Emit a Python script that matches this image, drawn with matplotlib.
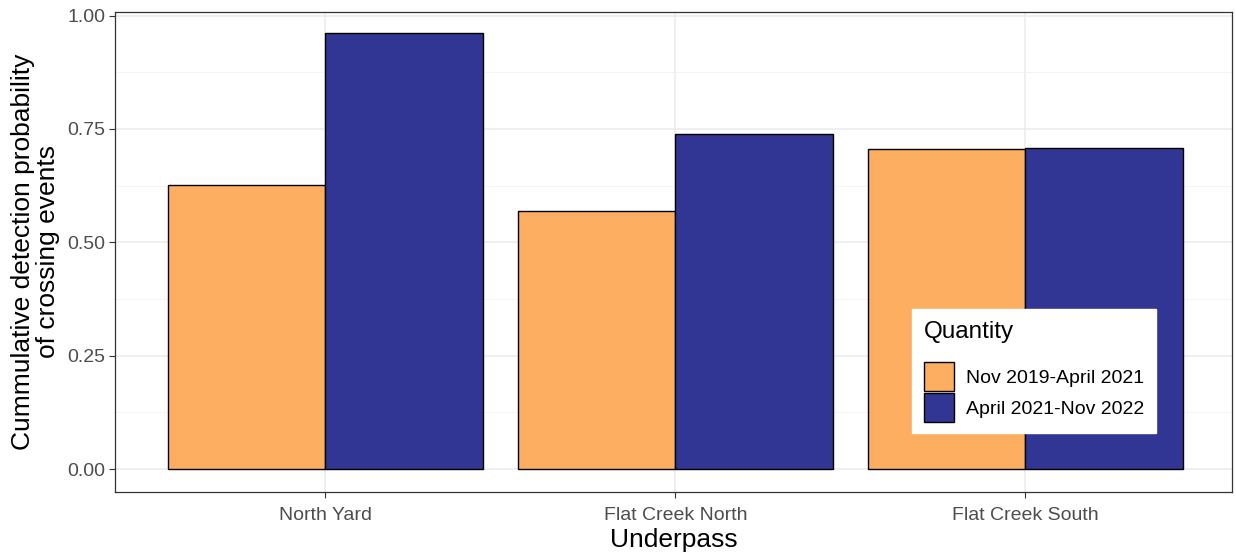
import numpy as np
import matplotlib
matplotlib.use("Agg")
from matplotlib import pyplot as plt
from matplotlib.patches import Patch

plt.rcParams['font.family'] = ['Liberation Sans', 'DejaVu Sans']

# data
underpass = ["North Yard", "Flat Creek North", "Flat Creek South"]
periods = ["Nov 2019-April 2021", "April 2021-Nov 2022"]
prob_early = [0.626, 0.568, 0.705]
prob_late = [0.961, 0.738, 0.707]
colors = ["#FDAE61", "#313695"]

fig = plt.figure(figsize=(12.36, 5.52), dpi=100)
W, H = 1236, 552
ax = fig.add_axes([115 / W, (H - 492) / H, (1232 - 115) / W, (492 - 12) / H])

x = np.arange(1, len(underpass) + 1)
w = 0.45
ax.bar(x - w / 2, prob_early, width=w, color=colors[0], edgecolor="black", linewidth=1.0, zorder=3)
ax.bar(x + w / 2, prob_late, width=w, color=colors[1], edgecolor="black", linewidth=1.0, zorder=3)

ax.set_xlim(0.4, 3.59)
ax.set_ylim(-0.0507, 1.008)

ax.set_yticks([0, 0.25, 0.5, 0.75, 1.0])
ax.set_yticklabels(["0.00", "0.25", "0.50", "0.75", "1.00"])
ax.set_yticks([0.125, 0.375, 0.625, 0.875], minor=True)
ax.set_xticks(x)
ax.set_xticklabels(underpass)

ax.grid(True, which="major", color="#ebebeb", linewidth=1.1, zorder=0)
ax.grid(True, which="minor", axis="y", color="#f2f2f2", linewidth=0.6, zorder=0)
ax.tick_params(which="minor", length=0)
ax.tick_params(which="major", length=4, width=0.8, color="#333333",
               labelsize=14, labelcolor="#4d4d4d", pad=3)
ax.tick_params(axis="x", pad=7)
for s in ax.spines.values():
    s.set_color("#333333")
    s.set_linewidth(0.9)

ax.set_xlabel("Underpass", fontsize=19, labelpad=3)
ax.set_ylabel("Cummulative detection probability\nof crossing events", fontsize=19, labelpad=5, linespacing=1.05)

handles = [Patch(facecolor=colors[0], edgecolor="black", linewidth=1.0),
           Patch(facecolor=colors[1], edgecolor="black", linewidth=1.0)]
leg = ax.legend(handles, periods, title="Quantity", loc="upper left",
                bbox_to_anchor=(0.7135, 0.381), frameon=True, fancybox=False,
                edgecolor="white", framealpha=1, fontsize=14, title_fontsize=17.5,
                handlelength=1.55, handleheight=1.9, handletextpad=0.65,
                labelspacing=0.1, borderpad=0.6, borderaxespad=0)
leg._legend_box.align = "left"
leg._legend_box.sep = 14
leg.set_zorder(5)

fig.savefig("out.png", dpi=100)
